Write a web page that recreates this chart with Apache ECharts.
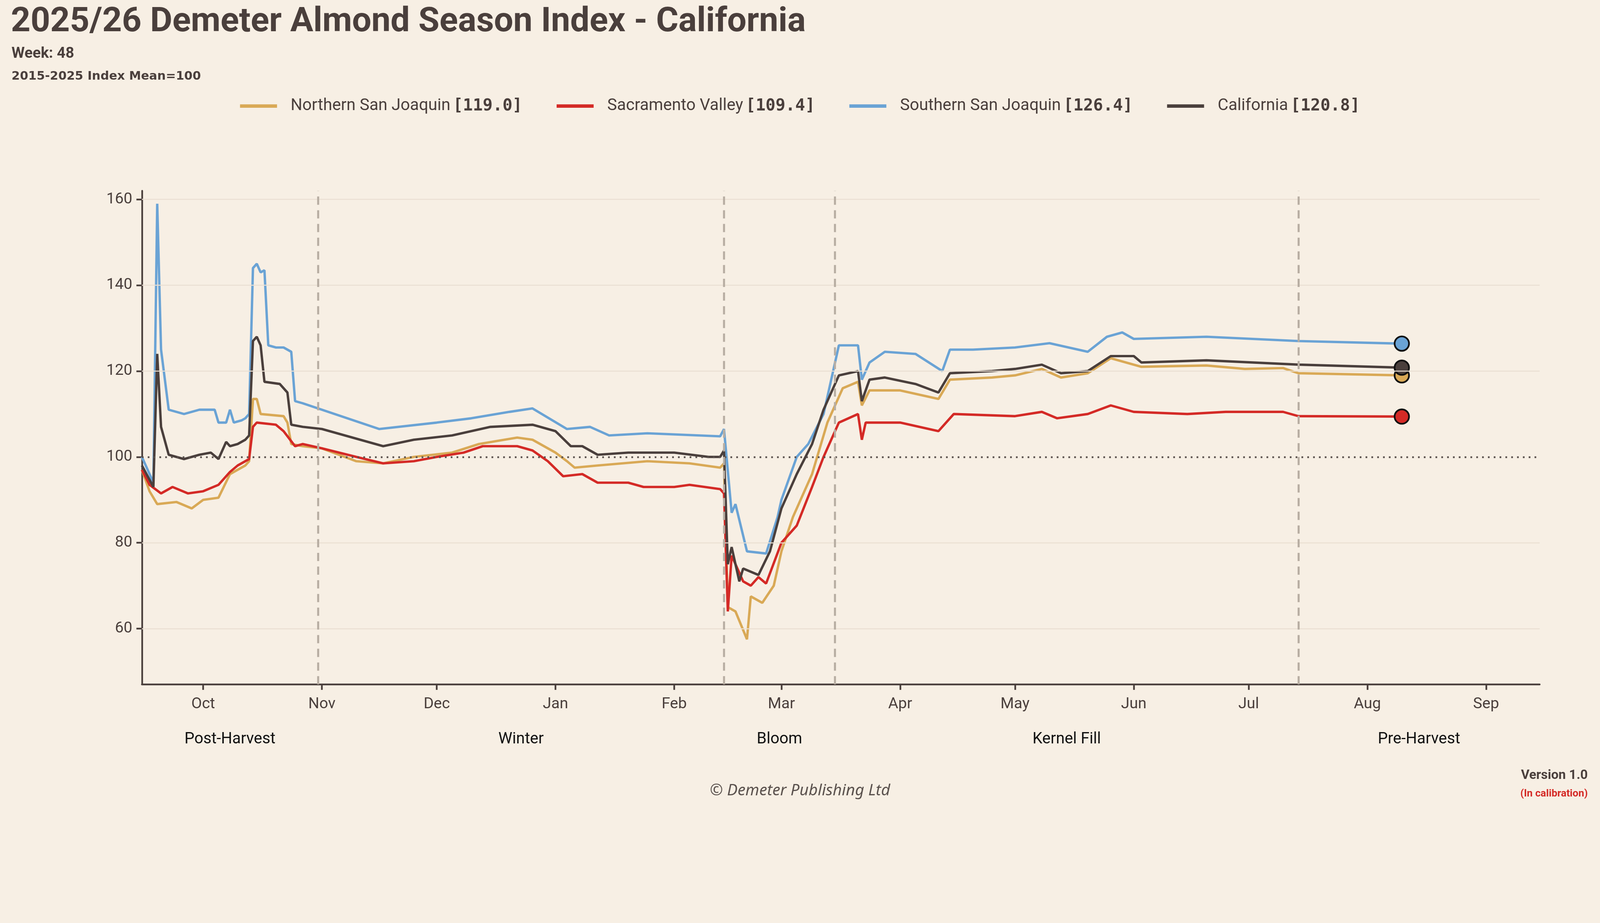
<!DOCTYPE html>
<html><head><meta charset="utf-8">
<script src="https://cdn.jsdelivr.net/npm/echarts@6/dist/echarts.min.js"></script>
<style>html,body{margin:0;padding:0;background:#f7efe4;overflow:hidden}</style>
</head><body><div id="c"></div>
<script>
const seriesNames = ['Northern San Joaquin','Sacramento Valley','Southern San Joaquin','California'];
const latestValues = ['119.0','109.4','126.4','120.8'];
const colors = ['#d9a956','#d42a26','#6aa3d5','#4a3f3c'];
const yTicks = [60,80,100,120,140,160];
const monthTicks = ['2025-10-01','2025-11-01','2025-12-01','2026-01-01','2026-02-01','2026-03-01','2026-04-01','2026-05-01','2026-06-01','2026-07-01','2026-08-01','2026-09-01'];
const phaseBounds = ['2025-09-15','2025-10-31','2026-02-14','2026-03-15','2026-07-14','2026-09-15'];
const phaseNames = ['Post-Harvest','Winter','Bloom','Kernel Fill','Pre-Harvest'];

const nsj = [['2025-09-15',97],['2025-09-17',92],['2025-09-19',89],['2025-09-24',89.5],['2025-09-28',88],['2025-10-01',90],['2025-10-05',90.5],['2025-10-08',96],['2025-10-12',98],['2025-10-13',99],['2025-10-14',113.5],['2025-10-15',113.5],['2025-10-16',110],['2025-10-22',109.5],['2025-10-23',108],['2025-10-24',103],['2025-10-27',102.5],['2025-11-01',102],['2025-11-10',99],['2025-11-17',98.5],['2025-11-25',100],['2025-12-05',101],['2025-12-12',103],['2025-12-22',104.5],['2025-12-26',104],['2026-01-01',101],['2026-01-04',99],['2026-01-06',97.5],['2026-01-12',98],['2026-01-25',99],['2026-02-05',98.5],['2026-02-13',97.5],['2026-02-14',98.5],['2026-02-15',65],['2026-02-17',64],['2026-02-20',57.5],['2026-02-21',67.5],['2026-02-24',66],['2026-02-27',70],['2026-03-01',78],['2026-03-04',86],['2026-03-09',96],['2026-03-13',108],['2026-03-17',116],['2026-03-21',117.5],['2026-03-22',112],['2026-03-24',115.5],['2026-04-01',115.5],['2026-04-11',113.5],['2026-04-14',118],['2026-04-25',118.5],['2026-05-01',119],['2026-05-08',120.5],['2026-05-13',118.5],['2026-05-20',119.5],['2026-05-26',123],['2026-06-03',121],['2026-06-20',121.3],['2026-06-30',120.5],['2026-07-10',120.7],['2026-07-14',119.5],['2026-08-10',119.0]];
const sac = [['2025-09-15',97],['2025-09-17',93.5],['2025-09-20',91.5],['2025-09-23',93],['2025-09-27',91.5],['2025-10-01',92],['2025-10-05',93.5],['2025-10-08',96.5],['2025-10-10',98],['2025-10-13',99.5],['2025-10-14',107],['2025-10-15',108],['2025-10-20',107.5],['2025-10-22',106],['2025-10-25',102.5],['2025-10-27',103],['2025-11-01',102],['2025-11-10',100],['2025-11-17',98.5],['2025-11-25',99],['2025-12-01',100],['2025-12-08',101],['2025-12-13',102.5],['2025-12-22',102.5],['2025-12-26',101.5],['2025-12-30',99],['2026-01-03',95.5],['2026-01-08',96],['2026-01-12',94],['2026-01-20',94],['2026-01-24',93],['2026-02-01',93],['2026-02-05',93.5],['2026-02-13',92.5],['2026-02-14',91.5],['2026-02-15',64],['2026-02-16',77],['2026-02-19',71],['2026-02-21',70],['2026-02-23',72],['2026-02-25',70.5],['2026-03-01',80],['2026-03-05',84],['2026-03-09',93],['2026-03-12',100],['2026-03-16',108],['2026-03-21',110],['2026-03-22',104],['2026-03-23',108],['2026-04-01',108],['2026-04-11',106],['2026-04-15',110],['2026-05-01',109.5],['2026-05-08',110.5],['2026-05-12',109],['2026-05-20',110],['2026-05-26',112],['2026-06-01',110.5],['2026-06-15',110],['2026-06-25',110.5],['2026-07-10',110.5],['2026-07-14',109.5],['2026-08-10',109.4]];
const ssj = [['2025-09-15',100],['2025-09-18',94],['2025-09-19',159],['2025-09-20',125],['2025-09-22',111],['2025-09-26',110],['2025-09-30',111],['2025-10-04',111],['2025-10-05',108],['2025-10-07',108],['2025-10-08',111],['2025-10-09',108],['2025-10-11',108.5],['2025-10-12',109],['2025-10-13',110],['2025-10-14',144],['2025-10-15',145],['2025-10-16',143],['2025-10-17',143.5],['2025-10-18',126],['2025-10-20',125.5],['2025-10-22',125.5],['2025-10-24',124.5],['2025-10-25',113],['2025-10-27',112.5],['2025-11-01',111],['2025-11-16',106.5],['2025-12-01',108],['2025-12-10',109],['2025-12-20',110.5],['2025-12-26',111.3],['2026-01-04',106.5],['2026-01-10',107],['2026-01-15',105],['2026-01-25',105.5],['2026-02-13',104.8],['2026-02-14',106.5],['2026-02-16',87],['2026-02-17',89],['2026-02-20',78],['2026-02-25',77.5],['2026-02-28',86],['2026-03-01',90],['2026-03-05',100],['2026-03-08',103],['2026-03-12',110],['2026-03-16',126],['2026-03-21',126],['2026-03-22',118],['2026-03-24',122],['2026-03-28',124.5],['2026-04-05',124],['2026-04-12',120],['2026-04-14',125],['2026-04-20',125],['2026-05-01',125.5],['2026-05-10',126.5],['2026-05-20',124.5],['2026-05-25',128],['2026-05-29',129],['2026-06-01',127.5],['2026-06-20',128],['2026-07-14',127],['2026-08-10',126.4]];
const cal = [['2025-09-15',98],['2025-09-18',93],['2025-09-19',124],['2025-09-20',107],['2025-09-22',100.5],['2025-09-26',99.5],['2025-09-30',100.5],['2025-10-03',101],['2025-10-05',99.5],['2025-10-07',103.5],['2025-10-08',102.5],['2025-10-10',103],['2025-10-12',104],['2025-10-13',105],['2025-10-14',127],['2025-10-15',128],['2025-10-16',126],['2025-10-17',117.5],['2025-10-21',117],['2025-10-23',115],['2025-10-24',107.5],['2025-10-27',107],['2025-11-01',106.5],['2025-11-17',102.5],['2025-11-25',104],['2025-12-05',105],['2025-12-15',107],['2025-12-26',107.5],['2026-01-01',106],['2026-01-05',102.5],['2026-01-08',102.5],['2026-01-12',100.5],['2026-01-20',101],['2026-02-01',101],['2026-02-10',100],['2026-02-13',100],['2026-02-14',101.5],['2026-02-15',75],['2026-02-16',79],['2026-02-18',71],['2026-02-19',74],['2026-02-23',72.5],['2026-02-26',78],['2026-03-01',88],['2026-03-05',96],['2026-03-09',103],['2026-03-12',111],['2026-03-16',119],['2026-03-21',120],['2026-03-22',113],['2026-03-24',118],['2026-03-28',118.5],['2026-04-05',117],['2026-04-11',115],['2026-04-14',119.5],['2026-04-25',120],['2026-05-01',120.5],['2026-05-08',121.5],['2026-05-13',119.5],['2026-05-20',120],['2026-05-26',123.5],['2026-06-01',123.5],['2026-06-03',122],['2026-06-20',122.5],['2026-07-14',121.5],['2026-08-10',120.8]];
const allData = [nsj, sac, ssj, cal];

const k = window.innerWidth / 4668;
const s = v => v * k;
const el = document.getElementById('c');
el.style.width = window.innerWidth + 'px';
el.style.height = Math.round(2364 * k) + 'px';
const chart = echarts.init(el);
const ff = 'Roboto';
const series = allData.map((d, i) => ({
  name: seriesNames[i], type: 'line', data: d.map((p, j) => j === d.length - 1
      ? {value: p, symbol: 'circle', symbolSize: s(42), itemStyle: {color: colors[i], borderColor: '#111', borderWidth: s(5)}}
      : {value: p, symbol: 'none'}),
  symbol: 'none', color: colors[i], lineStyle: {width: s(7), color: colors[i]},
  z: i === 3 ? 4 : 3, animation: false
}));
series.push({
  type: 'line', data: [], silent: true,
  markLine: {symbol: 'none', silent: true, label: {show: false},
    data: [
      ...yTicks.filter(v => v !== 100).map(v => ({yAxis: v, lineStyle: {color: '#eadfd2', width: s(3), type: 'solid'}})),
      {yAxis: 100, lineStyle: {color: '#5a514d', width: s(5), type: [s(5), s(12)]}},
      ...phaseBounds.slice(1, 5).map(d => ({xAxis: d, lineStyle: {color: '#b8aea3', width: s(6), type: [s(24), s(16)]}}))
    ]},
  markArea: {silent: true, itemStyle: {color: 'rgba(0,0,0,0)'},
    label: {show: true, position: 'bottom', distance: s(138), color: '#111', fontFamily: ff, fontSize: s(46)},
    data: phaseNames.map((n, i) => [{name: n, xAxis: phaseBounds[i]}, {xAxis: phaseBounds[i + 1]}])}
});
chart.setOption({
  backgroundColor: '#f7efe4', animation: false,
  title: [
    {text: '2025/26 Demeter Almond Season Index - California', left: s(26), top: s(10), textStyle: {fontFamily: ff, fontSize: s(100), fontWeight: 'bold', color: '#4a3f3c'}},
    {text: 'Week: 48', left: s(28), top: s(130), textStyle: {fontFamily: ff, fontSize: s(44), fontWeight: 'bold', color: '#4a3f3c'}},
    {text: '2015-2025 Index Mean=100', left: s(28), top: s(200), textStyle: {fontFamily: 'DejaVu Sans', fontSize: s(35), fontWeight: 'bold', color: '#4a3f3c'}},
    {text: '© Demeter Publishing Ltd', left: 'center', top: s(2280), textStyle: {fontFamily: 'Noto Sans', fontStyle: 'italic', fontSize: s(46), fontWeight: 'normal', color: '#5a514d'}},
    {text: 'Version 1.0', right: s(30), top: s(2240), textStyle: {fontFamily: ff, fontSize: s(38), fontWeight: 'bold', color: '#4a3f3c'}},
    {text: '(In calibration)', right: s(30), top: s(2297), textStyle: {fontFamily: ff, fontSize: s(30), fontWeight: 'bold', color: '#d42a26'}}
  ],
  legend: {top: s(280), left: 'center', itemWidth: s(108), itemHeight: s(10), itemGap: s(100), icon: 'rect',
    data: seriesNames,
    formatter: n => `{n|${n}}  {v|[${latestValues[seriesNames.indexOf(n)]}]}`,
    textStyle: {color: '#4a3f3c', padding: [0, 0, 0, s(34)], rich: {
      n: {fontFamily: ff, fontSize: s(48), color: '#4a3f3c'},
      v: {fontFamily: 'DejaVu Sans Mono', fontSize: s(48), fontWeight: 'bold', color: '#4a3f3c'}}}},
  grid: {left: s(414), right: s(176), top: s(557), bottom: s(366)},
  xAxis: {type: 'time', min: '2025-09-15', max: '2026-09-15',
    axisLine: {lineStyle: {color: '#4a3f3c', width: s(5)}},
    axisTick: {show: true, length: s(16), lineStyle: {color: '#4a3f3c', width: s(5)}, customValues: monthTicks.map(d => +new Date(d))},
    axisLabel: {fontFamily: ff, fontSize: s(45), color: '#4a3f3c', margin: s(36), customValues: monthTicks.map(d => +new Date(d)), formatter: '{MMM}'},
    splitLine: {show: false}},
  yAxis: {type: 'value', min: 47, max: 162,
    axisLine: {show: true, lineStyle: {color: '#4a3f3c', width: s(5)}},
    axisTick: {show: true, length: s(16), lineStyle: {color: '#4a3f3c', width: s(5)}, customValues: yTicks},
    axisLabel: {fontFamily: ff, fontSize: s(45), color: '#4a3f3c', margin: s(28), customValues: yTicks},
    splitLine: {show: false}},
  series
});
</script></body></html>
